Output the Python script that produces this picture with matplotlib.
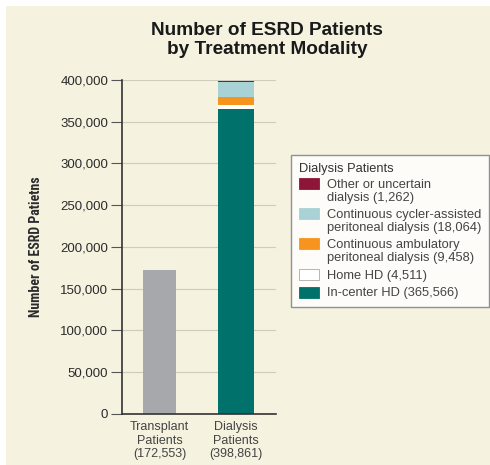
import matplotlib
matplotlib.use("Agg")
import matplotlib.pyplot as plt
from matplotlib.patches import Rectangle, Patch
from matplotlib.legend_handler import HandlerPatch
from matplotlib import font_manager

# Data
categories = ["Transplant\nPatients\n(172,553)", "Dialysis\nPatients\n(398,861)"]
transplant = 172553
dialysis_labels = ["In-center HD (365,566)", "Home HD (4,511)",
                   "Continuous ambulatory\nperitoneal dialysis (9,458)",
                   "Continuous cycler-assisted\nperitoneal dialysis (18,064)",
                   "Other or uncertain\ndialysis (1,262)"]
dialysis_values = [365566, 4511, 9458, 18064, 1262]
dialysis_colors = ["#00716b", "#ffffff", "#f7941d", "#a9d2d6", "#8c1538"]
yticks = [0, 50000, 100000, 150000, 200000, 250000, 300000, 350000, 400000]

cream = "#f6f2e0"
txt = "#2b2b2b"

# narrow font for the y label if one is installed
names = {f.name for f in font_manager.fontManager.ttflist}
narrow = None
for n in ["Liberation Sans Narrow", "DejaVu Sans Condensed", "Roboto Condensed", "Open Sans Condensed"]:
    if n in names:
        narrow = n
        break

fig = plt.figure(figsize=(4.9, 4.65), dpi=100)
fig.patch.set_facecolor("white")
fig.add_artist(Rectangle((6 / 490, 0), 1, 1 - 6 / 465, transform=fig.transFigure,
                         facecolor=cream, edgecolor="none", zorder=-1))

ax = fig.add_axes([0.249, 0.110, 0.314, 0.718])
ax.set_facecolor("none")

# Bars
ax.bar(0, transplant, width=0.44, color="#a7a8ab", zorder=2)
bottom = 0
for val, col in zip(dialysis_values, dialysis_colors):
    ax.bar(1, val, bottom=bottom, width=0.47, color=col, zorder=2, edgecolor="none")
    bottom += val

ax.set_xlim(-0.49, 1.52)
ax.set_ylim(0, 400000)
ax.set_yticks(yticks)
ax.set_yticklabels([f"{v:,}" for v in yticks], fontsize=9.5, color=txt,
                   family="Liberation Sans")
ax.set_xticks([0, 1])
ax.set_xticklabels(categories, fontsize=9, color="#444444", family="Liberation Sans",
                   linespacing=1.2)
ax.tick_params(axis="x", length=0, pad=5)
ax.tick_params(axis="y", length=8, width=0.8, color="#555555", pad=2)
ax.yaxis.grid(True, color="#cfcbbd", linewidth=0.8, zorder=0)
ax.set_axisbelow(True)
for s in ["top", "right"]:
    ax.spines[s].set_visible(False)
for s in ["left", "bottom"]:
    ax.spines[s].set_color("#333333")
    ax.spines[s].set_linewidth(1.2)

if narrow:
    ax.set_ylabel("Number of ESRD Patietns", fontsize=10, fontweight="bold", color=txt,
                  family=narrow, labelpad=12)
else:
    ax.set_ylabel("Number of ESRD Patietns", fontsize=8, fontweight="bold", color=txt,
                  family="Liberation Sans", labelpad=14)

fig.suptitle("Number of ESRD Patients\nby Treatment Modality", x=0.545, y=0.952,
             fontsize=13.7, fontweight="bold", color="#1a1a1a",
             family="Liberation Sans", linespacing=1.1)


# Legend: swatch sits on the first line of a two-line label
def make_swatch(shift):
    def f(legend, orig_handle, xdescent, ydescent, width, height, fontsize):
        h = 8.0
        y = -ydescent + (height - h) / 2 + shift
        return Rectangle((-xdescent, y), width, h)
    return f


leg_handles = []
hmap = {}
for col, lab in zip(dialysis_colors[::-1], dialysis_labels[::-1]):
    p = Patch(facecolor=col, edgecolor="#aaaaaa" if col == "#ffffff" else col, linewidth=0.6)
    leg_handles.append(p)
    hmap[p] = HandlerPatch(patch_func=make_swatch(5.9 if "\n" in lab else 0.0))

leg = fig.legend(leg_handles, dialysis_labels[::-1], loc="upper left",
                 bbox_to_anchor=(0.594, 0.667), title="Dialysis Patients",
                 alignment="left", frameon=True, fancybox=False,
                 handler_map=hmap,
                 handlelength=1.6, handleheight=1.0,
                 handletextpad=0.55, labelspacing=0.36, borderpad=0.6,
                 borderaxespad=0,
                 prop={"family": "Liberation Sans", "size": 9.3},
                 title_fontproperties={"family": "Liberation Sans", "size": 9.3})
leg.get_frame().set_edgecolor("#777777")
leg.get_frame().set_linewidth(1.0)
leg.get_frame().set_facecolor("white")
for t in leg.get_texts():
    t.set_color("#444444")
    t.set_linespacing(1.12)
leg.get_title().set_color("#333333")

fig.savefig("out.png", dpi=100)
